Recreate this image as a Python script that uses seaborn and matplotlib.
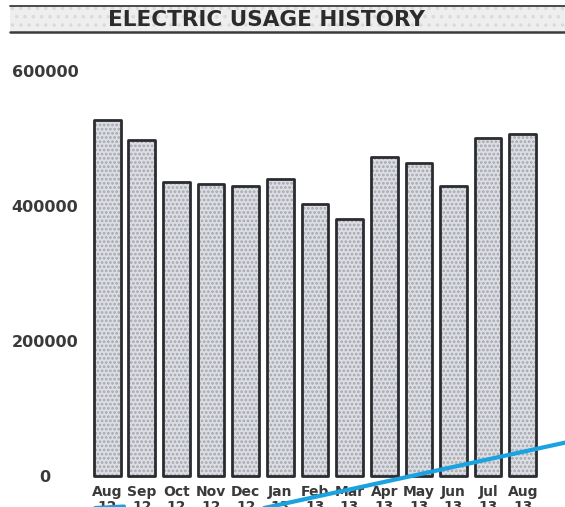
import matplotlib
matplotlib.use("Agg")
import matplotlib.pyplot as plt
from matplotlib.patches import Rectangle
from matplotlib.lines import Line2D
import pandas as pd
import seaborn as sns

# Monthly electric usage
months = ["Aug\n12", "Sep\n12", "Oct\n12", "Nov\n12", "Dec\n12", "Jan\n13", "Feb\n13",
          "Mar\n13", "Apr\n13", "May\n13", "Jun\n13", "Jul\n13", "Aug\n13"]
usage = [528000, 498000, 435000, 433000, 429000, 440000, 402000,
         381000, 473000, 464000, 430000, 501000, 506000]
y_ticks = [0, 200000, 400000, 600000]
title = "ELECTRIC USAGE HISTORY"

sns.set_theme(style="white")
plt.rcParams["font.family"] = ["DejaVu Sans"]
plt.rcParams["hatch.linewidth"] = 1.3

W, H = 565, 507
fig = plt.figure(figsize=(W / 100, H / 100), dpi=100)
fig.patch.set_facecolor("white")

def fx(px):
    return px / W

def fy(py):
    return 1 - py / H

# plot area
left_px, right_px, top_px, bottom_px = 80, 555, 71, 475.5
ax = fig.add_axes([fx(left_px), fy(bottom_px), fx(right_px - left_px), (bottom_px - top_px) / H])

df = pd.DataFrame({"month": months, "usage": usage})
sns.barplot(data=df, x="month", y="usage", ax=ax, width=0.77,
            color="#dcdee3", saturation=1)

# halftone fill drawn by the hatch, dark outline drawn on top
for p in list(ax.patches):
    p.set_hatch("....")
    p.set_edgecolor("#a3a6ae")
    p.set_linewidth(0)
    outline = Rectangle(p.get_xy(), p.get_width(), p.get_height(), fill=False,
                        edgecolor="#2a2c30", linewidth=2.0, joinstyle="round",
                        clip_on=False, zorder=p.get_zorder() + 0.1)
    ax.add_patch(outline)

pitch = 34.63
c0 = 107.2
ax.set_xlim((left_px - c0) / pitch, (right_px - c0) / pitch)
ax.set_ylim(0, 600000)
ax.set_yticks(y_ticks)
ax.set_yticklabels([str(v) for v in y_ticks])
ax.set_xlabel("")
ax.set_ylabel("")
for s in ax.spines.values():
    s.set_visible(False)
ax.set_facecolor("none")

ax.tick_params(axis="y", length=0, pad=(left_px - 45) * 0.72, labelsize=11.5, labelcolor="#3a3a3a")
ax.tick_params(axis="x", length=0, pad=7, labelsize=10, labelcolor="#3a3a3a")
for t in ax.get_yticklabels():
    t.set_horizontalalignment("center")
    t.set_fontweight("bold")
for t in ax.get_xticklabels():
    t.set_fontweight("bold")
    t.set_linespacing(1.1)

# title band
fig.patches.append(Rectangle((fx(10), fy(32)), 1 - fx(10), (32 - 6) / H,
                             transform=fig.transFigure, facecolor="#eeeeee",
                             hatch="..", edgecolor="#dadada", linewidth=0, zorder=0))
for yy, lw in [(6, 1.3), (32, 1.8)]:
    fig.add_artist(Line2D([fx(10), 1], [fy(yy), fy(yy)], transform=fig.transFigure,
                          color="#3c3c3c", linewidth=lw))
fig.text(fx(266.5), fy(20), title, ha="center", va="center",
         fontsize=15.5, fontweight="bold", color="#2b2b2b")

# pen stroke across the lower part of the sheet
fig.add_artist(Line2D([fx(255), fx(568)], [fy(510), fy(442)], transform=fig.transFigure,
                      color="#1aa3e0", linewidth=3.0, solid_capstyle="round"))
fig.add_artist(Line2D([fx(76), fx(124)], [fy(509), fy(506.5)], transform=fig.transFigure,
                      color="#1aa3e0", linewidth=3.0, solid_capstyle="round"))

fig.savefig("out.png", dpi=100)
